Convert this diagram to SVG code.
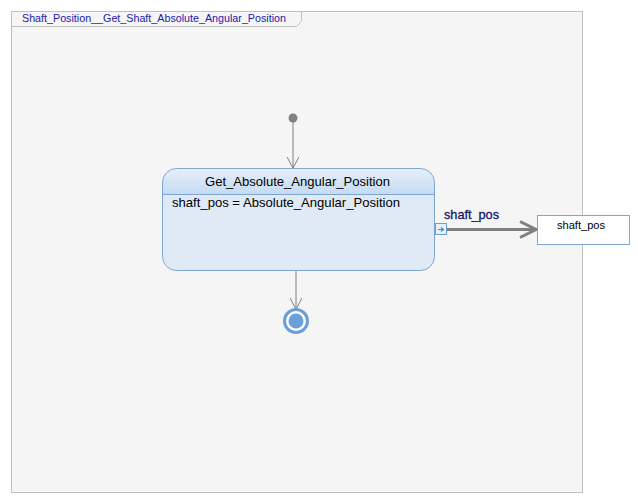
<svg xmlns="http://www.w3.org/2000/svg" width="638" height="502" viewBox="0 0 638 502">
<defs>
<linearGradient id="hdr" x1="0" y1="0" x2="0" y2="1">
<stop offset="0" stop-color="#e6f0fb"/>
<stop offset="1" stop-color="#c4daf2"/>
</linearGradient>
<marker id="open" viewBox="0 0 12 12" refX="11" refY="6" markerWidth="12" markerHeight="12" markerUnits="userSpaceOnUse" orient="auto">
<path d="M0,0 L11,6 L0,12" fill="none" stroke="#808080" stroke-width="1"/>
</marker>
<marker id="big" viewBox="0 0 20 20" refX="18" refY="10" markerWidth="20" markerHeight="20" markerUnits="userSpaceOnUse" orient="auto">
<path d="M2,2 L18,10 L2,18" fill="none" stroke="#808080" stroke-width="3"/>
</marker>
</defs>
<style>
text{font-family:"Liberation Sans",Arial,sans-serif;}
.t{font-size:13px;fill:#000;}
.conn{stroke:#808080;fill:none;}
</style>
<rect width="638" height="502" fill="#ffffff"/>
<g id="frame">
<rect x="11.5" y="11.5" width="571" height="481" fill="#f5f5f5" stroke="#c0c0c0"/>
<path d="M11.5,26.5 L296.5,26.5 L301.5,21.5 L301.5,11.5" fill="none" stroke="#c0c0c0"/>
<text x="22" y="22" font-size="11" fill="#1a1ab0" textLength="264" lengthAdjust="spacingAndGlyphs">Shaft_Position__Get_Shaft_Absolute_Angular_Position</text>
</g>
<g id="connectors">
<line class="conn" x1="293" y1="118" x2="293" y2="168" marker-end="url(#open)"/>
<line class="conn" x1="296" y1="270" x2="296" y2="309" marker-end="url(#open)"/>
<line x1="447" y1="229.5" x2="536" y2="229.5" stroke="#808080" stroke-width="3" fill="none" marker-end="url(#big)"/>
<text x="444" y="219" font-size="13" fill="#14146e" stroke="#14146e" stroke-width="0.3" textLength="55" lengthAdjust="spacingAndGlyphs">shaft_pos</text>
</g>
<g id="initial">
<circle cx="293" cy="118" r="4.5" fill="#808080"/>
</g>
<g id="state">
<path d="M176.5,168.5 L420.5,168.5 A14,14 0 0 1 434.5,182.5 L434.5,194.5 L162.5,194.5 L162.5,182.5 A14,14 0 0 1 176.5,168.5 Z" fill="url(#hdr)"/>
<path d="M162.5,194.5 L434.5,194.5 L434.5,256.5 A14,14 0 0 1 420.5,270.5 L176.5,270.5 A14,14 0 0 1 162.5,256.5 Z" fill="#e0eaf6"/>
<rect x="162.5" y="168.5" width="272" height="102" rx="14" ry="14" fill="none" stroke="#7ea6d2"/>
<line x1="162.5" y1="194.5" x2="434.5" y2="194.5" stroke="#7ea6d2"/>
<text class="t" x="205" y="185.5" textLength="185" lengthAdjust="spacingAndGlyphs">Get_Absolute_Angular_Position</text>
<text class="t" x="172" y="207" textLength="228" lengthAdjust="spacingAndGlyphs">shaft_pos = Absolute_Angular_Position</text>
<rect x="435.5" y="223.5" width="11" height="11" fill="#e8f0fa" stroke="#6a9fd8"/>
<path d="M438,229.5 L443,229.5 M441,227.5 L443.5,229.5 L441,231.5" stroke="#4a86cc" fill="none" stroke-width="1.2"/>
</g>
<g id="final">
<circle cx="296" cy="321" r="11.5" fill="#ffffff" stroke="#6a9fd8" stroke-width="3"/>
<circle cx="296" cy="321" r="7.5" fill="#6a9fd8"/>
</g>
<g id="output">
<rect x="537.5" y="215.5" width="92" height="29" fill="#ffffff" stroke="#7ea6d2"/>
<text x="557" y="229" font-size="11" fill="#000" textLength="48" lengthAdjust="spacingAndGlyphs">shaft_pos</text>
</g>
</svg>
